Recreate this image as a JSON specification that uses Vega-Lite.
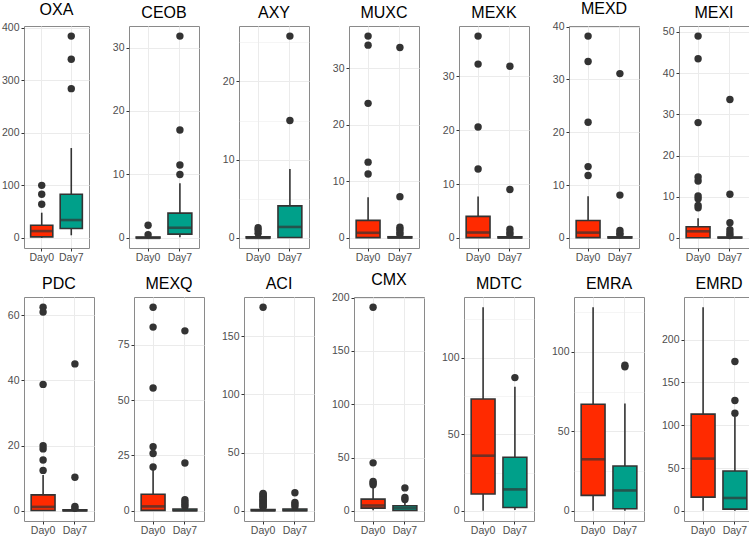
{
"$schema": "https://vega.github.io/schema/vega-lite/v6.json",
"padding": {"left": 0, "top": 0, "right": 0, "bottom": 0},
"datasets": {"d": [
{"g":"OXA","day":"Day0","lo":0,"q1":2,"med":13,"q3":24,"hi":48},
{"g":"OXA","day":"Day7","lo":5,"q1":18,"med":34,"q3":83,"hi":171},
{"g":"CEOB","day":"Day0","lo":0,"q1":0,"med":0,"q3":0.15,"hi":0.3},
{"g":"CEOB","day":"Day7","lo":0.1,"q1":0.6,"med":1.6,"q3":3.9,"hi":8.6},
{"g":"AXY","day":"Day0","lo":0,"q1":0,"med":0,"q3":0.15,"hi":0.3},
{"g":"AXY","day":"Day7","lo":0,"q1":0.05,"med":1.4,"q3":4.1,"hi":8.8},
{"g":"MUXC","day":"Day0","lo":0,"q1":0.05,"med":0.9,"q3":3.1,"hi":7.2},
{"g":"MUXC","day":"Day7","lo":0,"q1":0,"med":0.05,"q3":0.2,"hi":0.4},
{"g":"MEXK","day":"Day0","lo":0,"q1":0.05,"med":1.0,"q3":4.0,"hi":7.7},
{"g":"MEXK","day":"Day7","lo":0,"q1":0,"med":0.05,"q3":0.2,"hi":0.4},
{"g":"MEXD","day":"Day0","lo":0,"q1":0.05,"med":1.0,"q3":3.3,"hi":7.9},
{"g":"MEXD","day":"Day7","lo":0,"q1":0,"med":0.05,"q3":0.2,"hi":0.4},
{"g":"MEXI","day":"Day0","lo":0,"q1":0.05,"med":1.6,"q3":2.7,"hi":4.8},
{"g":"MEXI","day":"Day7","lo":0,"q1":0,"med":0.05,"q3":0.2,"hi":0.4},
{"g":"PDC","day":"Day0","lo":0,"q1":0.1,"med":1.2,"q3":4.9,"hi":11},
{"g":"PDC","day":"Day7","lo":0,"q1":0,"med":0.1,"q3":0.3,"hi":0.6},
{"g":"MEXQ","day":"Day0","lo":0,"q1":0.2,"med":2,"q3":7.5,"hi":18.5},
{"g":"MEXQ","day":"Day7","lo":0,"q1":0,"med":0.2,"q3":0.8,"hi":1.5},
{"g":"ACI","day":"Day0","lo":0,"q1":0.1,"med":0.4,"q3":1.0,"hi":2.2},
{"g":"ACI","day":"Day7","lo":0,"q1":0.1,"med":0.5,"q3":1.5,"hi":3.0},
{"g":"CMX","day":"Day0","lo":0.5,"q1":2.5,"med":5,"q3":11,"hi":22},
{"g":"CMX","day":"Day7","lo":0,"q1":0.3,"med":2.5,"q3":4.8,"hi":9},
{"g":"MDTC","day":"Day0","lo":0,"q1":11,"med":36,"q3":73,"hi":133},
{"g":"MDTC","day":"Day7","lo":0.5,"q1":2.2,"med":14,"q3":35,"hi":81},
{"g":"EMRA","day":"Day0","lo":0,"q1":9.7,"med":32.4,"q3":67,"hi":128},
{"g":"EMRA","day":"Day7","lo":0,"q1":1.3,"med":12.8,"q3":28.2,"hi":67.4},
{"g":"EMRD","day":"Day0","lo":0,"q1":16,"med":61,"q3":113,"hi":238},
{"g":"EMRD","day":"Day7","lo":0,"q1":2,"med":15,"q3":46.5,"hi":110},
{"g":"OXA","day":"Day0","out":64},{"g":"OXA","day":"Day0","out":83},{"g":"OXA","day":"Day0","out":100},
{"g":"OXA","day":"Day7","out":284},{"g":"OXA","day":"Day7","out":340},{"g":"OXA","day":"Day7","out":384},
{"g":"CEOB","day":"Day0","out":0.5},{"g":"CEOB","day":"Day0","out":2.0},
{"g":"CEOB","day":"Day7","out":10},{"g":"CEOB","day":"Day7","out":11.5},{"g":"CEOB","day":"Day7","out":17},{"g":"CEOB","day":"Day7","out":31.8},
{"g":"AXY","day":"Day0","out":0.6},{"g":"AXY","day":"Day0","out":1.0},{"g":"AXY","day":"Day0","out":1.3},
{"g":"AXY","day":"Day7","out":15},{"g":"AXY","day":"Day7","out":25.8},
{"g":"MUXC","day":"Day0","out":11.3},{"g":"MUXC","day":"Day0","out":13.4},{"g":"MUXC","day":"Day0","out":23.8},{"g":"MUXC","day":"Day0","out":34.1},{"g":"MUXC","day":"Day0","out":35.7},
{"g":"MUXC","day":"Day7","out":0.6},{"g":"MUXC","day":"Day7","out":1.0},{"g":"MUXC","day":"Day7","out":1.5},{"g":"MUXC","day":"Day7","out":1.9},{"g":"MUXC","day":"Day7","out":7.3},{"g":"MUXC","day":"Day7","out":33.7},
{"g":"MEXK","day":"Day0","out":12.8},{"g":"MEXK","day":"Day0","out":20.6},{"g":"MEXK","day":"Day0","out":32.3},{"g":"MEXK","day":"Day0","out":37.5},
{"g":"MEXK","day":"Day7","out":0.6},{"g":"MEXK","day":"Day7","out":1.0},{"g":"MEXK","day":"Day7","out":1.6},{"g":"MEXK","day":"Day7","out":9.0},{"g":"MEXK","day":"Day7","out":31.9},
{"g":"MEXD","day":"Day0","out":11.8},{"g":"MEXD","day":"Day0","out":13.5},{"g":"MEXD","day":"Day0","out":21.9},{"g":"MEXD","day":"Day0","out":33.4},{"g":"MEXD","day":"Day0","out":38.2},
{"g":"MEXD","day":"Day7","out":0.6},{"g":"MEXD","day":"Day7","out":0.9},{"g":"MEXD","day":"Day7","out":1.4},{"g":"MEXD","day":"Day7","out":8.1},{"g":"MEXD","day":"Day7","out":31.1},
{"g":"MEXI","day":"Day0","out":7.3},{"g":"MEXI","day":"Day0","out":7.9},{"g":"MEXI","day":"Day0","out":9.5},{"g":"MEXI","day":"Day0","out":10.2},{"g":"MEXI","day":"Day0","out":13.8},{"g":"MEXI","day":"Day0","out":14.8},{"g":"MEXI","day":"Day0","out":28},{"g":"MEXI","day":"Day0","out":43.5},{"g":"MEXI","day":"Day0","out":49},
{"g":"MEXI","day":"Day7","out":0.6},{"g":"MEXI","day":"Day7","out":1.2},{"g":"MEXI","day":"Day7","out":2.0},{"g":"MEXI","day":"Day7","out":3.7},{"g":"MEXI","day":"Day7","out":10.6},{"g":"MEXI","day":"Day7","out":33.6},
{"g":"PDC","day":"Day0","out":12.4},{"g":"PDC","day":"Day0","out":15.6},{"g":"PDC","day":"Day0","out":19},{"g":"PDC","day":"Day0","out":20},{"g":"PDC","day":"Day0","out":38.8},{"g":"PDC","day":"Day0","out":61},{"g":"PDC","day":"Day0","out":62.5},
{"g":"PDC","day":"Day7","out":0.8},{"g":"PDC","day":"Day7","out":1.3},{"g":"PDC","day":"Day7","out":10.3},{"g":"PDC","day":"Day7","out":45.1},
{"g":"MEXQ","day":"Day0","out":19.8},{"g":"MEXQ","day":"Day0","out":25.9},{"g":"MEXQ","day":"Day0","out":29},{"g":"MEXQ","day":"Day0","out":55.5},{"g":"MEXQ","day":"Day0","out":83},{"g":"MEXQ","day":"Day0","out":92},
{"g":"MEXQ","day":"Day7","out":2},{"g":"MEXQ","day":"Day7","out":3},{"g":"MEXQ","day":"Day7","out":4},{"g":"MEXQ","day":"Day7","out":5},{"g":"MEXQ","day":"Day7","out":21.6},{"g":"MEXQ","day":"Day7","out":81.3},
{"g":"ACI","day":"Day0","out":3},{"g":"ACI","day":"Day0","out":4},{"g":"ACI","day":"Day0","out":5},{"g":"ACI","day":"Day0","out":6},{"g":"ACI","day":"Day0","out":7},{"g":"ACI","day":"Day0","out":8},{"g":"ACI","day":"Day0","out":9},{"g":"ACI","day":"Day0","out":10},{"g":"ACI","day":"Day0","out":11},{"g":"ACI","day":"Day0","out":12},{"g":"ACI","day":"Day0","out":13},{"g":"ACI","day":"Day0","out":14},{"g":"ACI","day":"Day0","out":15},{"g":"ACI","day":"Day0","out":175},
{"g":"ACI","day":"Day7","out":3.5},{"g":"ACI","day":"Day7","out":5.5},{"g":"ACI","day":"Day7","out":7.2},{"g":"ACI","day":"Day7","out":15.5},
{"g":"CMX","day":"Day0","out":24.5},{"g":"CMX","day":"Day0","out":26},{"g":"CMX","day":"Day0","out":27.5},{"g":"CMX","day":"Day0","out":45},{"g":"CMX","day":"Day0","out":191},
{"g":"CMX","day":"Day7","out":10.5},{"g":"CMX","day":"Day7","out":12.5},{"g":"CMX","day":"Day7","out":21.5},
{"g":"MDTC","day":"Day7","out":87},
{"g":"EMRA","day":"Day7","out":90.5},{"g":"EMRA","day":"Day7","out":91.5},
{"g":"EMRD","day":"Day7","out":114},{"g":"EMRD","day":"Day7","out":129},{"g":"EMRD","day":"Day7","out":174.5}
]},
"data": {"name": "d"},
"config": {
 "font": "Liberation Sans",
 "view": {"stroke": "#8a8a8a", "strokeWidth": 1},
 "axis": {"labelFontSize": 10.5, "labelColor": "#4D4D4D", "tickColor": "#333333", "tickSize": 3, "tickWidth": 1, "labelPadding": 2, "domain": false, "gridColor": "#EBEBEB", "labelFlush": false},
 "axisX": {"labelPadding": 1},
 "title": {"fontSize": 16, "fontWeight": "normal", "color": "#000000", "offset": 5, "anchor": "middle"},
 "rule": {"color": "#333333", "strokeWidth": 1.6},
 "bar": {"stroke": "#333333", "strokeWidth": 1.6},
 "tick": {"color": "#333333", "thickness": 2.6, "size": 24},
 "circle": {"color": "#333333", "size": 55, "opacity": 1}
},
"spacing": 8,
"vconcat": [
{"hconcat": [
{"title": "OXA", "width": 65, "height": 222, "transform": [{"filter": "datum.g === 'OXA'"}],
 "encoding": {"x": {"field": "day", "type": "nominal", "title": null, "scale": {"type": "band", "paddingInner": 0, "paddingOuter": 0.1}, "axis": {"labelAngle": 0, "grid": true, "bandPosition": 0.5}}},
 "layer": [
  {"transform": [{"filter": "datum.q1 != null"}], "mark": "rule", "encoding": {"y": {"field": "lo", "type": "quantitative", "scale": {"domain": [-19.2, 403.2], "nice": false, "zero": false}, "axis": {"title": null, "values": [0,50,100,150,200,250,300,350,400], "labelExpr": "datum.value % 100 === 0 ? datum.label : ''", "tickOpacity": {"condition": {"test": "datum.value % 100 === 0", "value": 1}, "value": 0}, "gridWidth": {"condition": {"test": "datum.value % 100 === 0", "value": 1}, "value": 0.5}}}, "y2": {"field": "hi"}}},
  {"transform": [{"filter": "datum.q1 != null"}], "mark": {"type": "bar", "width": {"band": 0.75}}, "encoding": {"y": {"field": "q1", "type": "quantitative"}, "y2": {"field": "q3"}, "color": {"field": "day", "type": "nominal", "scale": {"domain": ["Day0", "Day7"], "range": ["#FF2A00", "#00A08A"]}, "legend": null}}},
  {"transform": [{"filter": "datum.q1 != null"}], "mark": {"type": "tick", "size": 22}, "encoding": {"y": {"field": "med", "type": "quantitative"}}},
  {"transform": [{"filter": "datum.out != null"}], "mark": "circle", "encoding": {"y": {"field": "out", "type": "quantitative"}}}
 ]},
{"title": "CEOB", "width": 70, "height": 222, "transform": [{"filter": "datum.g === 'CEOB'"}],
 "encoding": {"x": {"field": "day", "type": "nominal", "title": null, "scale": {"type": "band", "paddingInner": 0, "paddingOuter": 0.1}, "axis": {"labelAngle": 0, "grid": true, "bandPosition": 0.5}}},
 "layer": [
  {"transform": [{"filter": "datum.q1 != null"}], "mark": "rule", "encoding": {"y": {"field": "lo", "type": "quantitative", "scale": {"domain": [-1.59, 33.39], "nice": false, "zero": false}, "axis": {"title": null, "values": [0,5,10,15,20,25,30], "labelExpr": "datum.value % 10 === 0 ? datum.label : ''", "tickOpacity": {"condition": {"test": "datum.value % 10 === 0", "value": 1}, "value": 0}, "gridWidth": {"condition": {"test": "datum.value % 10 === 0", "value": 1}, "value": 0.5}}}, "y2": {"field": "hi"}}},
  {"transform": [{"filter": "datum.q1 != null"}], "mark": {"type": "bar", "width": {"band": 0.75}}, "encoding": {"y": {"field": "q1", "type": "quantitative"}, "y2": {"field": "q3"}, "color": {"field": "day", "type": "nominal", "scale": {"domain": ["Day0", "Day7"], "range": ["#FF2A00", "#00A08A"]}, "legend": null}}},
  {"transform": [{"filter": "datum.q1 != null"}], "mark": "tick", "encoding": {"y": {"field": "med", "type": "quantitative"}}},
  {"transform": [{"filter": "datum.out != null"}], "mark": "circle", "encoding": {"y": {"field": "out", "type": "quantitative"}}}
 ]},
{"title": "AXY", "width": 70, "height": 222, "transform": [{"filter": "datum.g === 'AXY'"}],
 "encoding": {"x": {"field": "day", "type": "nominal", "title": null, "scale": {"type": "band", "paddingInner": 0, "paddingOuter": 0.1}, "axis": {"labelAngle": 0, "grid": true, "bandPosition": 0.5}}},
 "layer": [
  {"transform": [{"filter": "datum.q1 != null"}], "mark": "rule", "encoding": {"y": {"field": "lo", "type": "quantitative", "scale": {"domain": [-1.29, 27.09], "nice": false, "zero": false}, "axis": {"title": null, "values": [0,5,10,15,20,25], "labelExpr": "datum.value % 10 === 0 ? datum.label : ''", "tickOpacity": {"condition": {"test": "datum.value % 10 === 0", "value": 1}, "value": 0}, "gridWidth": {"condition": {"test": "datum.value % 10 === 0", "value": 1}, "value": 0.5}}}, "y2": {"field": "hi"}}},
  {"transform": [{"filter": "datum.q1 != null"}], "mark": {"type": "bar", "width": {"band": 0.75}}, "encoding": {"y": {"field": "q1", "type": "quantitative"}, "y2": {"field": "q3"}, "color": {"field": "day", "type": "nominal", "scale": {"domain": ["Day0", "Day7"], "range": ["#FF2A00", "#00A08A"]}, "legend": null}}},
  {"transform": [{"filter": "datum.q1 != null"}], "mark": "tick", "encoding": {"y": {"field": "med", "type": "quantitative"}}},
  {"transform": [{"filter": "datum.out != null"}], "mark": "circle", "encoding": {"y": {"field": "out", "type": "quantitative"}}}
 ]},
{"title": "MUXC", "width": 70, "height": 222, "transform": [{"filter": "datum.g === 'MUXC'"}],
 "encoding": {"x": {"field": "day", "type": "nominal", "title": null, "scale": {"type": "band", "paddingInner": 0, "paddingOuter": 0.1}, "axis": {"labelAngle": 0, "grid": true, "bandPosition": 0.5}}},
 "layer": [
  {"transform": [{"filter": "datum.q1 != null"}], "mark": "rule", "encoding": {"y": {"field": "lo", "type": "quantitative", "scale": {"domain": [-1.79, 37.49], "nice": false, "zero": false}, "axis": {"title": null, "values": [0,5,10,15,20,25,30,35], "labelExpr": "datum.value % 10 === 0 ? datum.label : ''", "tickOpacity": {"condition": {"test": "datum.value % 10 === 0", "value": 1}, "value": 0}, "gridWidth": {"condition": {"test": "datum.value % 10 === 0", "value": 1}, "value": 0.5}}}, "y2": {"field": "hi"}}},
  {"transform": [{"filter": "datum.q1 != null"}], "mark": {"type": "bar", "width": {"band": 0.75}}, "encoding": {"y": {"field": "q1", "type": "quantitative"}, "y2": {"field": "q3"}, "color": {"field": "day", "type": "nominal", "scale": {"domain": ["Day0", "Day7"], "range": ["#FF2A00", "#00A08A"]}, "legend": null}}},
  {"transform": [{"filter": "datum.q1 != null"}], "mark": "tick", "encoding": {"y": {"field": "med", "type": "quantitative"}}},
  {"transform": [{"filter": "datum.out != null"}], "mark": "circle", "encoding": {"y": {"field": "out", "type": "quantitative"}}}
 ]},
{"title": "MEXK", "width": 70, "height": 222, "transform": [{"filter": "datum.g === 'MEXK'"}],
 "encoding": {"x": {"field": "day", "type": "nominal", "title": null, "scale": {"type": "band", "paddingInner": 0, "paddingOuter": 0.1}, "axis": {"labelAngle": 0, "grid": true, "bandPosition": 0.5}}},
 "layer": [
  {"transform": [{"filter": "datum.q1 != null"}], "mark": "rule", "encoding": {"y": {"field": "lo", "type": "quantitative", "scale": {"domain": [-1.88, 39.38], "nice": false, "zero": false}, "axis": {"title": null, "values": [0,5,10,15,20,25,30,35], "labelExpr": "datum.value % 10 === 0 ? datum.label : ''", "tickOpacity": {"condition": {"test": "datum.value % 10 === 0", "value": 1}, "value": 0}, "gridWidth": {"condition": {"test": "datum.value % 10 === 0", "value": 1}, "value": 0.5}}}, "y2": {"field": "hi"}}},
  {"transform": [{"filter": "datum.q1 != null"}], "mark": {"type": "bar", "width": {"band": 0.75}}, "encoding": {"y": {"field": "q1", "type": "quantitative"}, "y2": {"field": "q3"}, "color": {"field": "day", "type": "nominal", "scale": {"domain": ["Day0", "Day7"], "range": ["#FF2A00", "#00A08A"]}, "legend": null}}},
  {"transform": [{"filter": "datum.q1 != null"}], "mark": "tick", "encoding": {"y": {"field": "med", "type": "quantitative"}}},
  {"transform": [{"filter": "datum.out != null"}], "mark": "circle", "encoding": {"y": {"field": "out", "type": "quantitative"}}}
 ]},
{"title": "MEXD", "width": 70, "height": 222, "transform": [{"filter": "datum.g === 'MEXD'"}],
 "encoding": {"x": {"field": "day", "type": "nominal", "title": null, "scale": {"type": "band", "paddingInner": 0, "paddingOuter": 0.1}, "axis": {"labelAngle": 0, "grid": true, "bandPosition": 0.5}}},
 "layer": [
  {"transform": [{"filter": "datum.q1 != null"}], "mark": "rule", "encoding": {"y": {"field": "lo", "type": "quantitative", "scale": {"domain": [-1.91, 40.11], "nice": false, "zero": false}, "axis": {"title": null, "values": [0,5,10,15,20,25,30,35,40], "labelExpr": "datum.value % 10 === 0 ? datum.label : ''", "tickOpacity": {"condition": {"test": "datum.value % 10 === 0", "value": 1}, "value": 0}, "gridWidth": {"condition": {"test": "datum.value % 10 === 0", "value": 1}, "value": 0.5}}}, "y2": {"field": "hi"}}},
  {"transform": [{"filter": "datum.q1 != null"}], "mark": {"type": "bar", "width": {"band": 0.75}}, "encoding": {"y": {"field": "q1", "type": "quantitative"}, "y2": {"field": "q3"}, "color": {"field": "day", "type": "nominal", "scale": {"domain": ["Day0", "Day7"], "range": ["#FF2A00", "#00A08A"]}, "legend": null}}},
  {"transform": [{"filter": "datum.q1 != null"}], "mark": "tick", "encoding": {"y": {"field": "med", "type": "quantitative"}}},
  {"transform": [{"filter": "datum.out != null"}], "mark": "circle", "encoding": {"y": {"field": "out", "type": "quantitative"}}}
 ]},
{"title": "MEXI", "width": 70, "height": 222, "transform": [{"filter": "datum.g === 'MEXI'"}],
 "encoding": {"x": {"field": "day", "type": "nominal", "title": null, "scale": {"type": "band", "paddingInner": 0, "paddingOuter": 0.1}, "axis": {"labelAngle": 0, "grid": true, "bandPosition": 0.5}}},
 "layer": [
  {"transform": [{"filter": "datum.q1 != null"}], "mark": "rule", "encoding": {"y": {"field": "lo", "type": "quantitative", "scale": {"domain": [-2.45, 51.45], "nice": false, "zero": false}, "axis": {"title": null, "values": [0,5,10,15,20,25,30,35,40,45,50], "labelExpr": "datum.value % 10 === 0 ? datum.label : ''", "tickOpacity": {"condition": {"test": "datum.value % 10 === 0", "value": 1}, "value": 0}, "gridWidth": {"condition": {"test": "datum.value % 10 === 0", "value": 1}, "value": 0.5}}}, "y2": {"field": "hi"}}},
  {"transform": [{"filter": "datum.q1 != null"}], "mark": {"type": "bar", "width": {"band": 0.75}}, "encoding": {"y": {"field": "q1", "type": "quantitative"}, "y2": {"field": "q3"}, "color": {"field": "day", "type": "nominal", "scale": {"domain": ["Day0", "Day7"], "range": ["#FF2A00", "#00A08A"]}, "legend": null}}},
  {"transform": [{"filter": "datum.q1 != null"}], "mark": "tick", "encoding": {"y": {"field": "med", "type": "quantitative"}}},
  {"transform": [{"filter": "datum.out != null"}], "mark": "circle", "encoding": {"y": {"field": "out", "type": "quantitative"}}}
 ]}
], "spacing": 40, "bounds": "flush"},
{"hconcat": [
{"title": "PDC", "width": 70, "height": 224, "transform": [{"filter": "datum.g === 'PDC'"}],
 "encoding": {"x": {"field": "day", "type": "nominal", "title": null, "scale": {"type": "band", "paddingInner": 0, "paddingOuter": 0.1}, "axis": {"labelAngle": 0, "grid": true, "bandPosition": 0.5}}},
 "layer": [
  {"transform": [{"filter": "datum.q1 != null"}], "mark": "rule", "encoding": {"y": {"field": "lo", "type": "quantitative", "scale": {"domain": [-3.13, 65.63], "nice": false, "zero": false}, "axis": {"title": null, "values": [0,10,20,30,40,50,60], "labelExpr": "datum.value % 20 === 0 ? datum.label : ''", "tickOpacity": {"condition": {"test": "datum.value % 20 === 0", "value": 1}, "value": 0}, "gridWidth": {"condition": {"test": "datum.value % 20 === 0", "value": 1}, "value": 0.5}}}, "y2": {"field": "hi"}}},
  {"transform": [{"filter": "datum.q1 != null"}], "mark": {"type": "bar", "width": {"band": 0.75}}, "encoding": {"y": {"field": "q1", "type": "quantitative"}, "y2": {"field": "q3"}, "color": {"field": "day", "type": "nominal", "scale": {"domain": ["Day0", "Day7"], "range": ["#FF2A00", "#00A08A"]}, "legend": null}}},
  {"transform": [{"filter": "datum.q1 != null"}], "mark": "tick", "encoding": {"y": {"field": "med", "type": "quantitative"}}},
  {"transform": [{"filter": "datum.out != null"}], "mark": "circle", "encoding": {"y": {"field": "out", "type": "quantitative"}}}
 ]},
{"title": "MEXQ", "width": 70, "height": 224, "transform": [{"filter": "datum.g === 'MEXQ'"}],
 "encoding": {"x": {"field": "day", "type": "nominal", "title": null, "scale": {"type": "band", "paddingInner": 0, "paddingOuter": 0.1}, "axis": {"labelAngle": 0, "grid": true, "bandPosition": 0.5}}},
 "layer": [
  {"transform": [{"filter": "datum.q1 != null"}], "mark": "rule", "encoding": {"y": {"field": "lo", "type": "quantitative", "scale": {"domain": [-4.6, 96.6], "nice": false, "zero": false}, "axis": {"title": null, "values": [0,12.5,25,37.5,50,62.5,75,87.5], "labelExpr": "datum.value % 25 === 0 ? datum.label : ''", "tickOpacity": {"condition": {"test": "datum.value % 25 === 0", "value": 1}, "value": 0}, "gridWidth": {"condition": {"test": "datum.value % 25 === 0", "value": 1}, "value": 0.5}}}, "y2": {"field": "hi"}}},
  {"transform": [{"filter": "datum.q1 != null"}], "mark": {"type": "bar", "width": {"band": 0.75}}, "encoding": {"y": {"field": "q1", "type": "quantitative"}, "y2": {"field": "q3"}, "color": {"field": "day", "type": "nominal", "scale": {"domain": ["Day0", "Day7"], "range": ["#FF2A00", "#00A08A"]}, "legend": null}}},
  {"transform": [{"filter": "datum.q1 != null"}], "mark": "tick", "encoding": {"y": {"field": "med", "type": "quantitative"}}},
  {"transform": [{"filter": "datum.out != null"}], "mark": "circle", "encoding": {"y": {"field": "out", "type": "quantitative"}}}
 ]},
{"title": "ACI", "width": 70, "height": 224, "transform": [{"filter": "datum.g === 'ACI'"}],
 "encoding": {"x": {"field": "day", "type": "nominal", "title": null, "scale": {"type": "band", "paddingInner": 0, "paddingOuter": 0.1}, "axis": {"labelAngle": 0, "grid": true, "bandPosition": 0.5}}},
 "layer": [
  {"transform": [{"filter": "datum.q1 != null"}], "mark": "rule", "encoding": {"y": {"field": "lo", "type": "quantitative", "scale": {"domain": [-8.75, 183.75], "nice": false, "zero": false}, "axis": {"title": null, "values": [0,25,50,75,100,125,150,175], "labelExpr": "datum.value % 50 === 0 ? datum.label : ''", "tickOpacity": {"condition": {"test": "datum.value % 50 === 0", "value": 1}, "value": 0}, "gridWidth": {"condition": {"test": "datum.value % 50 === 0", "value": 1}, "value": 0.5}}}, "y2": {"field": "hi"}}},
  {"transform": [{"filter": "datum.q1 != null"}], "mark": {"type": "bar", "width": {"band": 0.75}}, "encoding": {"y": {"field": "q1", "type": "quantitative"}, "y2": {"field": "q3"}, "color": {"field": "day", "type": "nominal", "scale": {"domain": ["Day0", "Day7"], "range": ["#FF2A00", "#00A08A"]}, "legend": null}}},
  {"transform": [{"filter": "datum.q1 != null"}], "mark": "tick", "encoding": {"y": {"field": "med", "type": "quantitative"}}},
  {"transform": [{"filter": "datum.out != null"}], "mark": "circle", "encoding": {"y": {"field": "out", "type": "quantitative"}}}
 ]},
{"title": "CMX", "width": 70, "height": 224, "transform": [{"filter": "datum.g === 'CMX'"}],
 "encoding": {"x": {"field": "day", "type": "nominal", "title": null, "scale": {"type": "band", "paddingInner": 0, "paddingOuter": 0.1}, "axis": {"labelAngle": 0, "grid": true, "bandPosition": 0.5}}},
 "layer": [
  {"transform": [{"filter": "datum.q1 != null"}], "mark": "rule", "encoding": {"y": {"field": "lo", "type": "quantitative", "scale": {"domain": [-9.55, 200.55], "nice": false, "zero": false}, "axis": {"title": null, "values": [0,25,50,75,100,125,150,175,200], "labelExpr": "datum.value % 50 === 0 ? datum.label : ''", "tickOpacity": {"condition": {"test": "datum.value % 50 === 0", "value": 1}, "value": 0}, "gridWidth": {"condition": {"test": "datum.value % 50 === 0", "value": 1}, "value": 0.5}}}, "y2": {"field": "hi"}}},
  {"transform": [{"filter": "datum.q1 != null"}], "mark": {"type": "bar", "width": {"band": 0.75}}, "encoding": {"y": {"field": "q1", "type": "quantitative"}, "y2": {"field": "q3"}, "color": {"field": "day", "type": "nominal", "scale": {"domain": ["Day0", "Day7"], "range": ["#FF2A00", "#00A08A"]}, "legend": null}}},
  {"transform": [{"filter": "datum.q1 != null"}], "mark": "tick", "encoding": {"y": {"field": "med", "type": "quantitative"}}},
  {"transform": [{"filter": "datum.out != null"}], "mark": "circle", "encoding": {"y": {"field": "out", "type": "quantitative"}}}
 ]},
{"title": "MDTC", "width": 70, "height": 224, "transform": [{"filter": "datum.g === 'MDTC'"}],
 "encoding": {"x": {"field": "day", "type": "nominal", "title": null, "scale": {"type": "band", "paddingInner": 0, "paddingOuter": 0.1}, "axis": {"labelAngle": 0, "grid": true, "bandPosition": 0.5}}},
 "layer": [
  {"transform": [{"filter": "datum.q1 != null"}], "mark": "rule", "encoding": {"y": {"field": "lo", "type": "quantitative", "scale": {"domain": [-6.65, 139.65], "nice": false, "zero": false}, "axis": {"title": null, "values": [0,25,50,75,100,125], "labelExpr": "datum.value % 50 === 0 ? datum.label : ''", "tickOpacity": {"condition": {"test": "datum.value % 50 === 0", "value": 1}, "value": 0}, "gridWidth": {"condition": {"test": "datum.value % 50 === 0", "value": 1}, "value": 0.5}}}, "y2": {"field": "hi"}}},
  {"transform": [{"filter": "datum.q1 != null"}], "mark": {"type": "bar", "width": {"band": 0.75}}, "encoding": {"y": {"field": "q1", "type": "quantitative"}, "y2": {"field": "q3"}, "color": {"field": "day", "type": "nominal", "scale": {"domain": ["Day0", "Day7"], "range": ["#FF2A00", "#00A08A"]}, "legend": null}}},
  {"transform": [{"filter": "datum.q1 != null"}], "mark": "tick", "encoding": {"y": {"field": "med", "type": "quantitative"}}},
  {"transform": [{"filter": "datum.out != null"}], "mark": "circle", "encoding": {"y": {"field": "out", "type": "quantitative"}}}
 ]},
{"title": "EMRA", "width": 70, "height": 224, "transform": [{"filter": "datum.g === 'EMRA'"}],
 "encoding": {"x": {"field": "day", "type": "nominal", "title": null, "scale": {"type": "band", "paddingInner": 0, "paddingOuter": 0.1}, "axis": {"labelAngle": 0, "grid": true, "bandPosition": 0.5}}},
 "layer": [
  {"transform": [{"filter": "datum.q1 != null"}], "mark": "rule", "encoding": {"y": {"field": "lo", "type": "quantitative", "scale": {"domain": [-6.4, 134.4], "nice": false, "zero": false}, "axis": {"title": null, "values": [0,25,50,75,100,125], "labelExpr": "datum.value % 50 === 0 ? datum.label : ''", "tickOpacity": {"condition": {"test": "datum.value % 50 === 0", "value": 1}, "value": 0}, "gridWidth": {"condition": {"test": "datum.value % 50 === 0", "value": 1}, "value": 0.5}}}, "y2": {"field": "hi"}}},
  {"transform": [{"filter": "datum.q1 != null"}], "mark": {"type": "bar", "width": {"band": 0.75}}, "encoding": {"y": {"field": "q1", "type": "quantitative"}, "y2": {"field": "q3"}, "color": {"field": "day", "type": "nominal", "scale": {"domain": ["Day0", "Day7"], "range": ["#FF2A00", "#00A08A"]}, "legend": null}}},
  {"transform": [{"filter": "datum.q1 != null"}], "mark": "tick", "encoding": {"y": {"field": "med", "type": "quantitative"}}},
  {"transform": [{"filter": "datum.out != null"}], "mark": "circle", "encoding": {"y": {"field": "out", "type": "quantitative"}}}
 ]},
{"title": "EMRD", "width": 70, "height": 224, "transform": [{"filter": "datum.g === 'EMRD'"}],
 "encoding": {"x": {"field": "day", "type": "nominal", "title": null, "scale": {"type": "band", "paddingInner": 0, "paddingOuter": 0.1}, "axis": {"labelAngle": 0, "grid": true, "bandPosition": 0.5}}},
 "layer": [
  {"transform": [{"filter": "datum.q1 != null"}], "mark": "rule", "encoding": {"y": {"field": "lo", "type": "quantitative", "scale": {"domain": [-11.9, 249.9], "nice": false, "zero": false}, "axis": {"title": null, "values": [0,25,50,75,100,125,150,175,200,225,250], "labelExpr": "datum.value % 50 === 0 ? datum.label : ''", "tickOpacity": {"condition": {"test": "datum.value % 50 === 0", "value": 1}, "value": 0}, "gridWidth": {"condition": {"test": "datum.value % 50 === 0", "value": 1}, "value": 0.5}}}, "y2": {"field": "hi"}}},
  {"transform": [{"filter": "datum.q1 != null"}], "mark": {"type": "bar", "width": {"band": 0.75}}, "encoding": {"y": {"field": "q1", "type": "quantitative"}, "y2": {"field": "q3"}, "color": {"field": "day", "type": "nominal", "scale": {"domain": ["Day0", "Day7"], "range": ["#FF2A00", "#00A08A"]}, "legend": null}}},
  {"transform": [{"filter": "datum.q1 != null"}], "mark": "tick", "encoding": {"y": {"field": "med", "type": "quantitative"}}},
  {"transform": [{"filter": "datum.out != null"}], "mark": "circle", "encoding": {"y": {"field": "out", "type": "quantitative"}}}
 ]}
], "spacing": 40, "bounds": "flush"}
]
}
